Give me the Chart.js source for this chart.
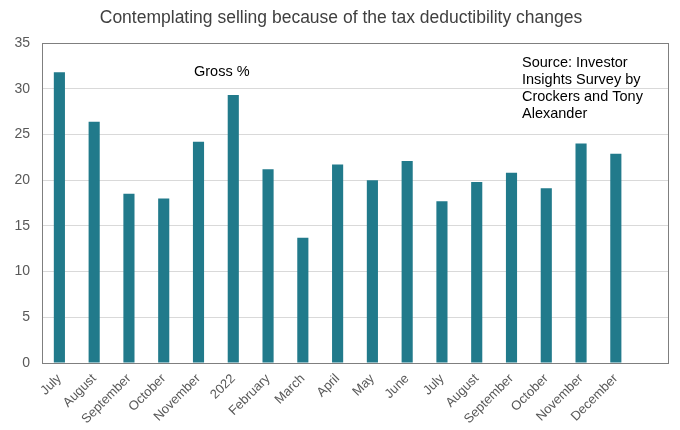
<!DOCTYPE html>
<html lang="en">
<head>
    <meta charset="UTF-8">
    <title>Contemplating selling</title>
    <script src="https://cdn.jsdelivr.net/npm/chart.js"></script>
    <style>
        html, body {
            margin: 0;
            padding: 0;
            background: #ffffff;
        }
        #wrap {
            width: 680px;
            height: 430px;
        }
    </style>
</head>
<body>
    <div id="wrap"><canvas id="sellChart"></canvas></div>

    <script>
        // Survey months (last slot left empty as spacing)
        const months = ['July', 'August', 'September', 'October', 'November', '2022', 'February', 'March',
            'April', 'May', 'June', 'July', 'August', 'September', 'October', 'November', 'December', ''];
        const grossPct = [31.8, 26.4, 18.5, 18.0, 24.2, 29.3, 21.2, 13.7,
            21.7, 20.0, 22.1, 17.7, 19.8, 20.8, 19.1, 24.0, 22.9, null];
        const yTicks = [0, 5, 10, 15, 20, 25, 30, 35];
        const chartTitle = 'Contemplating selling because of the tax deductibility changes';
        const sourceLines = ['Source: Investor', 'Insights Survey by', 'Crockers and Tony', 'Alexander'];

        const fontFamily = 'Liberation Sans, Arial, sans-serif';

        // title, frame around the plot area and text notes
        const notesPlugin = {
            id: 'notes',
            afterDraw(chart) {
                const { ctx, chartArea } = chart;
                ctx.save();
                ctx.strokeStyle = '#7f7f7f';
                ctx.lineWidth = 1;
                ctx.strokeRect(Math.round(chartArea.left) + 0.5, Math.round(chartArea.top) + 0.5,
                    Math.round(chartArea.width), Math.round(chartArea.height));

                ctx.textBaseline = 'middle';
                ctx.textAlign = 'center';
                ctx.fillStyle = '#404040';
                ctx.font = '17.5px "Liberation Sans", Arial, sans-serif';
                ctx.fillText(chartTitle, 341, 18);

                ctx.fillStyle = '#000000';
                ctx.font = '14.5px "Liberation Sans", Arial, sans-serif';
                ctx.textAlign = 'left';
                ctx.fillText('Gross %', 194, 72);
                sourceLines.forEach((line, i) => {
                    ctx.fillText(line, 522, 63 + i * 17);
                });
                ctx.restore();
            }
        };

        new Chart(document.getElementById('sellChart'), {
            type: 'bar',
            data: {
                labels: months,
                datasets: [{
                    label: 'Gross %',
                    data: grossPct,
                    backgroundColor: '#217a8b',
                    barPercentage: 0.8,
                    categoryPercentage: 0.4
                }]
            },
            options: {
                responsive: true,
                maintainAspectRatio: false,
                animation: false,
                layout: { padding: { left: 0, right: 12, top: 43, bottom: 0 } },
                plugins: {
                    legend: { display: false },
                    tooltip: { enabled: false },
                    title: { display: false }
                },
                scales: {
                    x: {
                        grid: { display: false },
                        border: { display: false },
                        ticks: {
                            color: '#595959',
                            font: { family: fontFamily, size: 13 },
                            maxRotation: 45,
                            minRotation: 45,
                            autoSkip: false,
                            padding: 0
                        },
                        afterFit(scale) { scale.height = 67; }
                    },
                    y: {
                        min: 0,
                        max: 35,
                        grid: { color: '#d9d9d9', drawTicks: false },
                        border: { display: false },
                        afterBuildTicks(scale) {
                            scale.ticks = yTicks.map(v => ({ value: v }));
                        },
                        ticks: {
                            color: '#595959',
                            font: { family: fontFamily, size: 14 },
                            padding: 12
                        },
                        afterFit(scale) { scale.width = 42; }
                    }
                }
            },
            plugins: [notesPlugin]
        });
    </script>
</body>
</html>
